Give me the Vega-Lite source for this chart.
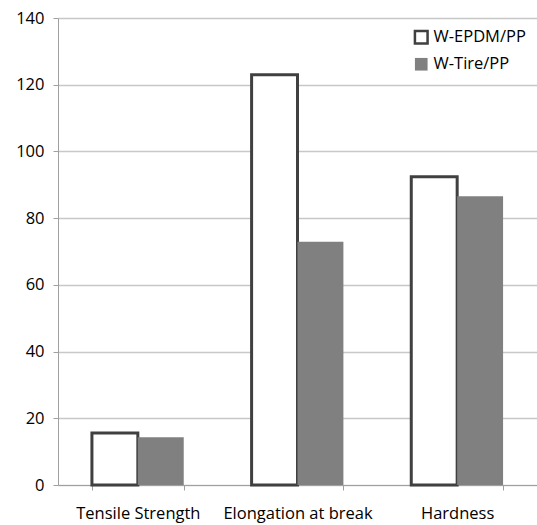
{
  "$schema": "https://vega.github.io/schema/vega-lite/v6.json",
  "autosize": "none",
  "width": 479,
  "height": 467,
  "padding": {"left": 58, "top": 18, "right": 0, "bottom": 40},
  "background": "white",
  "config": {
    "font": "Open Sans",
    "view": {"stroke": null}
  },
  "data": {
    "values": [
      {"property": "Tensile Strength", "series": "W-EPDM/PP", "value": 15.6},
      {"property": "Tensile Strength", "series": "W-Tire/PP", "value": 14.3},
      {"property": "Elongation at break", "series": "W-EPDM/PP", "value": 123.0},
      {"property": "Elongation at break", "series": "W-Tire/PP", "value": 72.9},
      {"property": "Hardness", "series": "W-EPDM/PP", "value": 92.4},
      {"property": "Hardness", "series": "W-Tire/PP", "value": 86.6}
    ]
  },
  "mark": {"type": "bar", "strokeWidth": 3, "strokeJoin": "miter"},
  "encoding": {
    "x": {
      "field": "property",
      "type": "nominal",
      "sort": ["Tensile Strength", "Elongation at break", "Hardness"],
      "scale": {"paddingInner": 0.425, "paddingOuter": 0.2125},
      "axis": {
        "title": null,
        "labelAngle": 0,
        "labelFontSize": 16.5,
        "labelColor": "#000000",
        "labelPadding": 15,
        "tickBand": "extent",
        "domainColor": "#a0a0a0",
        "tickColor": "#a0a0a0",
        "tickSize": 5,
        "grid": false
      }
    },
    "xOffset": {
      "field": "series",
      "type": "nominal",
      "scale": {"paddingInner": 0, "paddingOuter": 0}
    },
    "y": {
      "field": "value",
      "type": "quantitative",
      "scale": {"domain": [0, 140], "nice": false},
      "axis": {
        "title": null,
        "values": [0, 20, 40, 60, 80, 100, 120, 140],
        "labelFontSize": 16.5,
        "labelColor": "#000000",
        "labelPadding": 9,
        "domainColor": "#a0a0a0",
        "tickColor": "#a0a0a0",
        "tickSize": 5,
        "gridColor": "#c8c8c8",
        "gridWidth": 1.5
      }
    },
    "fill": {
      "field": "series",
      "type": "nominal",
      "scale": {"domain": ["W-EPDM/PP", "W-Tire/PP"], "range": ["#ffffff", "#808080"]},
      "legend": {
        "title": null,
        "orient": "none",
        "legendX": 355,
        "legendY": 11,
        "symbolType": "square",
        "symbolSize": 160,
        "symbolStrokeWidth": 2.5,
        "labelFontSize": 16.5,
        "labelColor": "#000000",
        "labelOffset": 4,
        "rowPadding": 3
      }
    },
    "stroke": {
      "field": "series",
      "type": "nominal",
      "scale": {"domain": ["W-EPDM/PP", "W-Tire/PP"], "range": ["#404040", "transparent"]},
      "legend": {
        "title": null,
        "orient": "none",
        "legendX": 355,
        "legendY": 11,
        "symbolType": "square",
        "symbolSize": 160,
        "symbolStrokeWidth": 2.5,
        "labelFontSize": 16.5,
        "labelColor": "#000000",
        "labelOffset": 4,
        "rowPadding": 3
      }
    }
  }
}
